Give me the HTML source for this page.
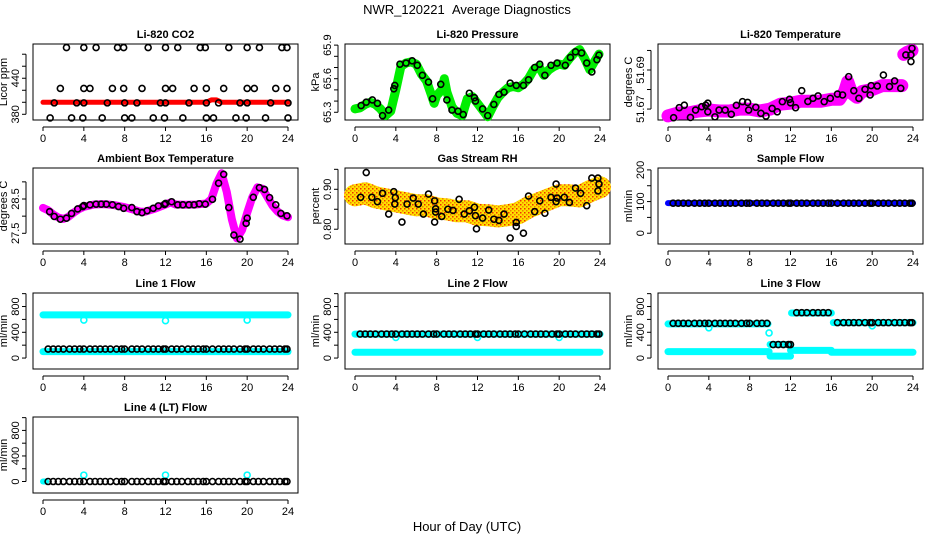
<!DOCTYPE html>
<html><head><meta charset="utf-8"><style>
html,body{margin:0;padding:0;background:#fff;}
svg{display:block;font-family:"Liberation Sans",Arial,sans-serif;}
</style></head><body>
<svg id="chart" width="936" height="540" viewBox="0 0 936 540" xmlns="http://www.w3.org/2000/svg">
<defs>
<pattern id="rhpat" width="4" height="4" patternUnits="userSpaceOnUse"><rect width="4" height="4" fill="#ffe000"/><rect width="1.5" height="1.5" fill="#f03000"/><rect x="2" y="2" width="1.5" height="1.5" fill="#f08000"/></pattern>
</defs>
<text x="467" y="14" font-size="13" text-anchor="middle" style="white-space:pre">NWR_120221&#160;&#160;Average Diagnostics</text>
<text x="467" y="531" font-size="13" text-anchor="middle">Hour of Day (UTC)</text>
</svg>
<script>
// ---- data ----
const xTicks = [0,4,8,12,16,20,24];
const circHours = [0.5,1.0,1.5,2.0,2.6,3.1,3.6,4.0,4.6,5.1,5.6,6.1,6.6,7.2,7.7,8.0,8.7,9.2,9.7,10.3,10.8,11.3,11.8,12.0,12.6,13.1,13.6,14.2,14.7,15.2,15.7,16.0,16.6,17.2,17.7,18.2,18.7,19.3,19.8,20.0,20.6,21.1,21.6,22.2,22.7,23.2,23.7,23.9];

const co2BandH = [0,4,8,12,16,16.5,17,17.5,20,24];
const co2BandV = [400,400,400,400,400,404,404,400,400,400];
const co2CircH = [2.3,4.0,5.2,7.3,7.9,10.3,12.0,13.2,15.4,15.9,18.2,20.0,21.2,23.4,23.9, 1.7,4.0,4.6,6.8,7.9,9.7,12.0,12.7,14.8,16.0,17.7,20.0,20.7,22.8,23.9, 1.1,3.3,4.0,6.3,8.0,9.2,11.5,12.0,14.3,16.0,17.2,19.3,20.0,22.3,24.0, 0.7,2.8,3.9,5.8,8.0,8.7,10.8,11.9,13.7,16.0,16.7,18.9,19.9,21.8,24.0];
const co2CircV = [491,491,491,491,491,491,491,491,491,491,491,491,491,491,491, 423,423,423,423,423,423,423,423,423,423,423,423,423,423,423, 399,399,399,399,399,399,399,399,399,399,399,399,399,399,399, 374,374,374,374,374,374,374,374,374,374,374,374,374,374,374];

const presBandH = [0,0.5,1,1.5,2,2.5,3,3.5,4,4.5,5,5.5,6,6.5,7,7.5,7.75,8,8.5,8.75,9,9.5,10,10.5,11,11.5,12,12.5,13,13.5,14,14.5,15,15.5,16,16.5,17,17.5,18,18.5,19,19.5,20,20.5,21,21.5,22,22.5,23,23.5,23.9];
const presBandV = [65.33,65.34,65.37,65.39,65.37,65.33,65.27,65.31,65.5,65.71,65.74,65.75,65.73,65.64,65.58,65.45,65.38,65.45,65.5,65.6,65.48,65.35,65.29,65.27,65.42,65.44,65.38,65.32,65.26,65.35,65.43,65.48,65.52,65.53,65.52,65.55,65.6,65.68,65.71,65.63,65.68,65.71,65.73,65.72,65.78,65.83,65.86,65.78,65.68,65.76,65.82];
const presCircH = [0.6,1.1,1.7,2.2,2.7,3.3,3.8,3.9,4.4,5.0,5.6,6.1,6.6,7.2,7.6,8.4,9.0,9.5,10.1,10.6,11.2,11.7,11.8,12.5,13.0,13.6,14.1,14.6,15.2,15.8,16.5,17.0,17.6,18.1,18.6,19.2,19.8,20.6,21.1,21.6,22.2,22.7,23.2,23.7,23.9];
const presCircV = [65.36,65.39,65.41,65.38,65.27,65.32,65.51,65.54,65.73,65.74,65.76,65.72,65.63,65.57,65.42,65.55,65.41,65.32,65.31,65.28,65.47,65.43,65.40,65.33,65.27,65.37,65.46,65.48,65.56,65.54,65.54,65.59,65.70,65.73,65.63,65.72,65.74,65.72,65.79,65.84,65.83,65.74,65.66,65.77,65.81];

const ltBandH = [0,1,2,3,4,5,6,7,8,9,10,11,12,13,14,15,16,16.8,17.3,17.6,18,18.5,19,20,21,22,22.9,null,23.1,23.4,23.9];
const ltBandV = [51.6665,51.668,51.668,51.669,51.6695,51.669,51.669,51.670,51.670,51.669,51.670,51.6725,51.673,51.674,51.674,51.674,51.675,51.675,51.679,51.684,51.678,51.676,51.679,51.680,51.682,51.682,51.682,null,51.698,51.699,51.700];
const ltCircH = [0.55,1.1,1.6,2.2,2.7,3.3,3.7,3.9,3.9,4.6,5.0,5.6,6.2,6.7,7.3,7.8,7.9,8.6,9.1,9.6,10.2,10.7,11.2,11.9,12.0,12.5,13.1,13.7,14.2,14.7,15.3,15.9,16.6,17.1,17.7,18.2,18.7,19.3,19.8,19.9,20.5,21.1,21.7,22.2,22.8,23.3,23.8,23.9,23.8];
const ltCircV = [51.6656,51.6707,51.672,51.6657,51.6695,51.6712,51.672,51.673,51.6686,51.666,51.6695,51.6695,51.6673,51.6719,51.6738,51.6734,51.6695,51.6709,51.6678,51.6664,51.6703,51.6686,51.6738,51.675,51.6732,51.6707,51.6794,51.6739,51.6755,51.6767,51.6738,51.6755,51.6777,51.6772,51.6866,51.6794,51.6755,51.6801,51.6772,51.682,51.6818,51.6874,51.6815,51.6844,51.6806,51.6977,51.6977,51.7011,51.6943];

const ambBandH = [0,0.5,1,1.5,2,2.5,3,3.5,4,5,6,7,8,9,9.5,10,11,12,12.5,13,14,15,16,16.5,17,17.5,18,18.5,19,19.5,20,20.5,21,21.5,22,22.5,23,23.5,24];
const ambBandV = [28.24,28.17,28.05,27.96,27.92,27.98,28.1,28.2,28.27,28.34,28.35,28.32,28.26,28.18,28.13,28.13,28.22,28.34,28.4,28.34,28.33,28.34,28.37,28.5,28.95,29.25,28.7,27.9,27.35,27.6,28.1,28.55,28.84,28.8,28.55,28.3,28.13,28.02,27.97];
const ambCircH = [0.65,1.1,1.7,2.3,2.8,3.4,3.9,4.0,4.6,5.2,5.7,6.2,6.8,7.4,7.9,8.7,9.2,9.7,10.2,10.8,11.3,11.9,12.0,12.6,13.2,13.7,14.3,14.8,15.3,15.9,16.6,17.2,17.7,18.2,18.7,19.3,19.9,20.0,20.6,21.2,21.7,22.2,22.8,23.3,23.9];
const ambCircV = [28.13,27.99,27.91,27.94,28.08,28.21,28.28,28.31,28.33,28.35,28.35,28.35,28.33,28.28,28.23,28.25,28.13,28.10,28.16,28.23,28.30,28.34,28.37,28.42,28.33,28.33,28.33,28.33,28.36,28.35,28.49,28.96,29.22,28.25,27.45,27.33,27.79,27.94,28.55,28.83,28.78,28.54,28.33,28.08,28.01];

const rhBandH = [0,1,2,3,4,5,6,7,8,9,10,11,12,13,14,15,16,17,18,19,20,21,22,23,24];
const rhBandV = [0.885,0.89,0.88,0.875,0.87,0.865,0.86,0.86,0.852,0.85,0.845,0.845,0.836,0.835,0.832,0.835,0.84,0.855,0.865,0.875,0.885,0.885,0.882,0.895,0.905];
const rhCircH = [0.55,1.1,1.65,2.2,2.7,3.3,3.8,3.95,3.9,4.6,5.1,5.7,6.2,6.7,7.2,7.8,7.9,7.9,7.8,8.5,9.1,9.6,10.2,10.7,11.2,11.7,11.8,11.9,12.5,13.1,13.6,14.1,14.6,15.2,15.8,15.8,16.5,17.0,17.6,18.1,18.6,19.2,19.7,19.7,19.8,20.5,21.0,21.6,22.1,22.7,23.2,23.8,23.9,23.8];
const rhCircV = [0.880,0.942,0.880,0.869,0.890,0.838,0.894,0.879,0.863,0.818,0.863,0.878,0.863,0.838,0.888,0.871,0.851,0.843,0.818,0.832,0.850,0.847,0.875,0.838,0.846,0.855,0.834,0.801,0.828,0.848,0.825,0.822,0.838,0.778,0.817,0.807,0.790,0.883,0.844,0.871,0.840,0.880,0.913,0.869,0.878,0.880,0.867,0.903,0.890,0.859,0.928,0.928,0.913,0.896];

// flow segments: start hour, end hour, value
const sampBlue = [[0,24,95]];
const sampCirc = [[0.5,24,95]];
const l1Cyan = [[0,24,670],[0,24,100]];
const l1Dips = [[4,590],[12,580],[20,590]];
const l1Circ = [[0.5,24,140]];
const l2Cyan = [[0,24,372],[0,24,90]];
const l2Dips = [[4,320],[12,320],[20,320]];
const l2Circ = [[0.5,24,372]];
const l3Cyan = [[0,9.8,530],[10,12,210],[12.1,16,700],[16.2,24,550],[0,9.9,100],[10,12,30],[12,16,120],[16,24,90]];
const l3Dips = [[9.9,390],[4,470],[20,500]];
const l3Circ = [[0.5,9.8,540],[10.3,12,210],[12.5,15.9,705],[16.5,24,550]];
const l4Cyan = [[0,0.3,0]];
const l4Dips = [[4,100],[12,100],[20,100]];
const l4Circ = [[0.5,24,0]];

// ---- layout ----
const svg = document.getElementById('chart');
const NS = 'http://www.w3.org/2000/svg';
const colX0 = [43,355,668], pxPerHour = 245/24;
const rowTop = [44,168,293,417], boxH = 76;
function mk(tag, attrs, parent){ const e=document.createElementNS(NS,tag); for(const k in attrs) e.setAttribute(k,attrs[k]); (parent||svg).appendChild(e); return e; }

function panel(col,row,title,ylab,ymin,ymax,yTicks,yLabels,name){
  const g = mk('g',{});
  
  
  const x0=colX0[col], top=rowTop[row], bot=top+boxH;
  const sx = h => x0 + h*pxPerHour;
  const sy = v => bot - (v-ymin)/(ymax-ymin)*boxH;
  const left = x0-10, right = x0+24*pxPerHour+10;
  const box = mk('rect',{x:left,y:top,width:right-left,height:boxH,fill:'none',stroke:'#000','stroke-width':1},g);
  
  
  const t = mk('text',{x:(left+right)/2,y:top-6,'font-size':11,'font-weight':'bold','text-anchor':'middle'},g);
  t.textContent = title;
  
  
  const xa = mk('g',{},g);
  
  
  mk('line',{x1:sx(0),x2:sx(24),y1:bot+7,y2:bot+7,stroke:'#000'},xa);
  xTicks.forEach(h=>{
    mk('line',{x1:sx(h),x2:sx(h),y1:bot+7,y2:bot+11,stroke:'#000'},xa);
    const l = mk('text',{x:sx(h),y:bot+22,'font-size':11,'text-anchor':'middle'},xa);
    l.textContent = h;
  });
  const ya = mk('g',{},g);
  
  
  const ax = left-7;
  mk('line',{x1:ax,x2:ax,y1:sy(yTicks[0]),y2:sy(yTicks[yTicks.length-1]),stroke:'#000'},ya);
  yTicks.forEach((v,i)=>{
    mk('line',{x1:ax-4,x2:ax,y1:sy(v),y2:sy(v),stroke:'#000'},ya);
    if(yLabels[i]!==''){
      const l = mk('text',{x:0,y:0,'font-size':11,'text-anchor':'middle',transform:`translate(${ax-7},${sy(v)}) rotate(-90)`},ya);
      l.textContent = yLabels[i];
    }
  });
  const yt = mk('text',{x:0,y:0,'font-size':11,'text-anchor':'middle',transform:`translate(${left-26},${top+boxH/2}) rotate(-90)`},g);
  yt.textContent = ylab;
  
  
  return {g,sx,sy};
}
function band(p,H,V,color,w,name){
  let d='', pen=false;
  for(let i=0;i<H.length;i++){
    if(H[i]===null){pen=false;continue;}
    d += (pen?'L':'M')+p.sx(H[i]).toFixed(1)+','+p.sy(V[i]).toFixed(1)+' ';
    pen=true;
  }
  const e = mk('path',{d:d,fill:'none',stroke:color,'stroke-width':w,'stroke-linejoin':'round','stroke-linecap':'round'},p.g);
  
  
}
function segs(p,S,color,w,name){
  S.forEach(s=>{
    const e = mk('line',{x1:p.sx(s[0]),x2:p.sx(s[1]),y1:p.sy(s[2]),y2:p.sy(s[2]),stroke:color,'stroke-width':w,'stroke-linecap':'round'},p.g);
    
    
  });
}
function dots(p,H,V,color,name){
  for(let i=0;i<H.length;i++){
    const c = mk('circle',{cx:p.sx(H[i]),cy:p.sy(V[i]),r:3,fill:'none',stroke:color,'stroke-width':1.6},p.g);
    
    
  }
}
function segDots(p,S,color,name){
  S.forEach(s=>{
    const H = circHours.filter(h=>h>=s[0]&&h<=s[1]);
    dots(p,H,H.map(()=>s[2]),color,name);
  });
}
function ptDots(p,P,color,name){ dots(p,P.map(q=>q[0]),P.map(q=>q[1]),color,name); }

let p = panel(0,0,'Li-820 CO2','Licor ppm',370.5,497,[380,400,420,440,460,480],['380','','','440','',''],'co2');
band(p,co2BandH,co2BandV,'#ff0000',5,'co2-band');
dots(p,co2CircH,co2CircV,'#000','co2-point');
p = panel(1,0,'Li-820 Pressure','kPa',65.231,65.91,[65.3,65.4,65.5,65.6,65.7,65.8,65.9],['65.3','','','65.6','','','65.9'],'pressure');
band(p,presBandH,presBandV,'#00ee00',9,'pressure-band');
dots(p,presCircH,presCircV,'#000','pressure-point');
p = panel(2,0,'Li-820 Temperature','degrees C',51.6644,51.7033,[51.67,51.68,51.69,51.70],['51.67','','51.69',''],'li820-temp');
band(p,ltBandH,ltBandV,'#ff00ff',13,'li820-temp-band');
dots(p,ltCircH,ltCircV,'#000','li820-temp-point');
p = panel(0,1,'Ambient Box Temperature','degrees C',27.188,29.404,[27.5,28.0,28.5,29.0],['27.5','','28.5',''],'ambient');
band(p,ambBandH,ambBandV,'#ff00ff',8,'ambient-band');
dots(p,ambCircH,ambCircV,'#000','ambient-point');
p = panel(1,1,'Gas Stream RH','percent',0.763,0.9533,[0.80,0.85,0.90,0.95],['0.80','','0.90',''],'rh');
band(p,rhBandH,rhBandV,'url(#rhpat)',22,'rh-band');
dots(p,rhCircH,rhCircV,'#000','rh-point');
p = panel(2,1,'Sample Flow','ml/min',-34,206,[0,50,100,150,200],['0','','100','','200'],'sample-flow');
segs(p,sampBlue,'#0000ff',6,'sample-flow-band');
segDots(p,sampCirc,'#000','sample-flow-point');
const flowTicks=[0,200,400,600,800,1000], flowLabels=['0','','400','','800',''];
p = panel(0,2,'Line 1 Flow','ml/min',-170,1010,flowTicks,flowLabels,'line1-flow');
segs(p,l1Cyan,'#00ffff',7,'line1-cyan-band');
ptDots(p,l1Dips,'#00ffff','line1-cyan-point');
segDots(p,l1Circ,'#000','line1-point');
p = panel(1,2,'Line 2 Flow','ml/min',-170,1010,flowTicks,flowLabels,'line2-flow');
segs(p,l2Cyan,'#00ffff',7,'line2-cyan-band');
ptDots(p,l2Dips,'#00ffff','line2-cyan-point');
segDots(p,l2Circ,'#000','line2-point');
p = panel(2,2,'Line 3 Flow','ml/min',-170,1010,flowTicks,flowLabels,'line3-flow');
segs(p,l3Cyan,'#00ffff',7,'line3-cyan-band');
ptDots(p,l3Dips,'#00ffff','line3-cyan-point');
segDots(p,l3Circ,'#000','line3-point');
p = panel(0,3,'Line 4 (LT) Flow','ml/min',-180,1010,flowTicks,flowLabels,'line4-flow');
segs(p,l4Cyan,'#00ffff',6,'line4-cyan-band');
ptDots(p,l4Dips,'#00ffff','line4-cyan-point');
segDots(p,l4Circ,'#000','line4-point');
</script>
</body></html>
